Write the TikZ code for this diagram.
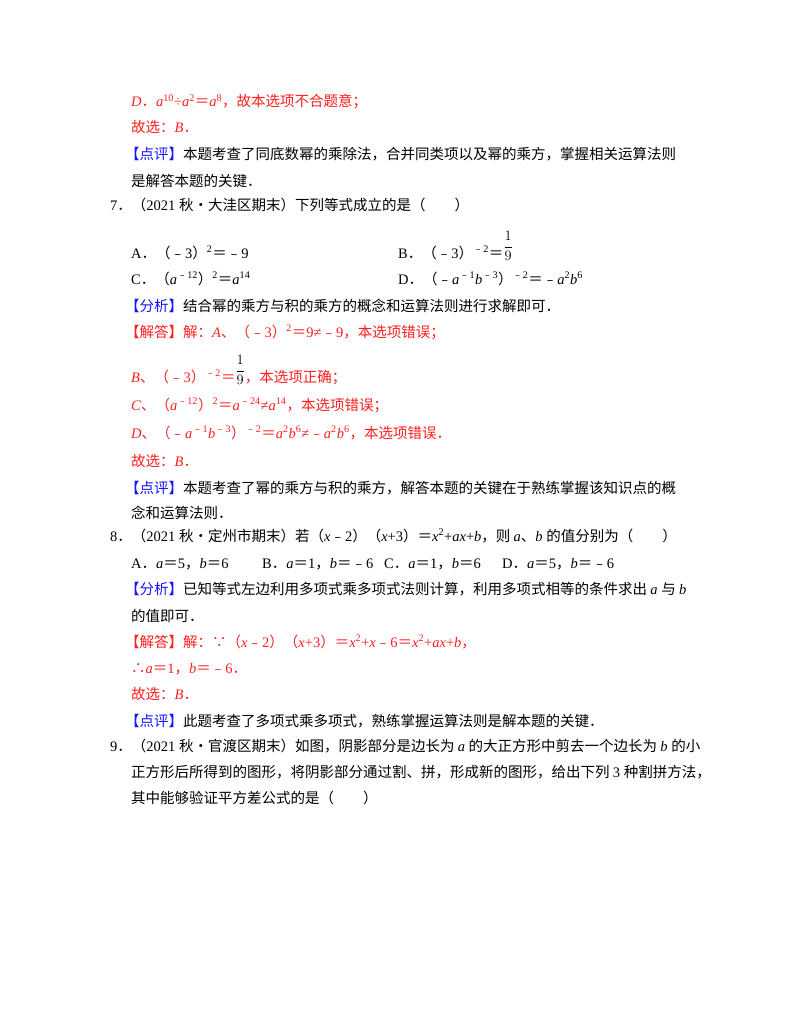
\documentclass[tikz,border=0pt]{standalone}
\usepackage{fontspec}
\setmainfont{Liberation Serif}
\newfontfamily\zh{Noto Sans CJK SC}
\definecolor{ansred}{RGB}{255,30,30}
\definecolor{tagblue}{RGB}{20,20,255}
\newcommand{\m}{{\zh ﹣}}
\newcommand{\eq}{{\zh ＝}}
\newcommand{\dt}{{\zh ．}}
\newcommand{\tsp}[1]{\textsuperscript{#1}}
\newcommand{\ninth}{\raisebox{1.1ex}{$\displaystyle\frac{1}{9}$}}
\newcommand{\tagb}[1]{{\color{tagblue}\zh 【#1】}}
\newcommand{\tagr}[1]{{\color{ansred}\zh 【#1】}}
\begin{document}
\begin{tikzpicture}[x=1pt,y=-1pt,
  ln/.style={anchor=base west,inner sep=0pt,font=\fontsize{14.5}{18}\selectfont},
  red/.style={ln,text=ansred}]
\useasboundingbox (0,0) rectangle (800,1035);
\node[red] (a1) at (131,107) {\textit{D}\dt\textit{a}\tsp{10}÷\textit{a}\tsp{2}\eq\textit{a}\tsp{8}{\zh ，故本选项不合题意；}};
\node[red] (a2) at (131,133) {{\zh 故选：}\textit{B}\dt};
\node[ln] (a3) at (125,160) {\tagb{点评}{\zh 本题考查了同底数幂的乘除法，合并同类项以及幂的乘方，掌握相关运算法则}};
\node[ln] (a4) at (131,186) {{\zh 是解答本题的关键}\dt};
\node[ln] (q7) at (110,210) {7\dt{\zh （}2021 {\zh 秋•大洼区期末）下列等式成立的是（\quad\quad ）}};
\node[ln] (q7a) at (131,258) {A\dt{\zh （}\m3{\zh ）}\tsp{2}\eq\m9};
\node[ln] (q7b) at (398,258) {B\dt{\zh （}\m3{\zh ）}\tsp{\m2}\eq\ninth};
\node[ln] (q7c) at (131,284) {C\dt{\zh （}\textit{a}\tsp{\m12}{\zh ）}\tsp{2}\eq\textit{a}\tsp{14}};
\node[ln] (q7d) at (398,284) {D\dt{\zh （}\m\textit{a}\tsp{\m1}\textit{b}\tsp{\m3}{\zh ）}\tsp{\m2}\eq\m\textit{a}\tsp{2}\textit{b}\tsp{6}};
\node[ln] (b1) at (125,311) {\tagb{分析}{\zh 结合幂的乘方与积的乘方的概念和运算法则进行求解即可}\dt};
\node[red] (b2) at (125,337) {\tagr{解答}{\zh 解：}\textit{A}{\zh 、（}\m3{\zh ）}\tsp{2}\eq9≠\m9{\zh ，本选项错误；}};
\node[red] (b3) at (131,382) {\textit{B}{\zh 、（}\m3{\zh ）}\tsp{\m2}\eq{\color{black}\ninth}{\zh ，本选项正确；}};
\node[red] (b4) at (131,410) {\textit{C}{\zh 、（}\textit{a}\tsp{\m12}{\zh ）}\tsp{2}\eq\textit{a}\tsp{\m24}≠\textit{a}\tsp{14}{\zh ，本选项错误；}};
\node[red] (b5) at (131,438) {\textit{D}{\zh 、（}\m\textit{a}\tsp{\m1}\textit{b}\tsp{\m3}{\zh ）}\tsp{\m2}\eq\textit{a}\tsp{2}\textit{b}\tsp{6}≠\m\textit{a}\tsp{2}\textit{b}\tsp{6}{\zh ，本选项错误}\dt};
\node[red] (b6) at (131,466) {{\zh 故选：}\textit{B}\dt};
\node[ln] (b7) at (125,493) {\tagb{点评}{\zh 本题考查了幂的乘方与积的乘方，解答本题的关键在于熟练掌握该知识点的概}};
\node[ln] (b8) at (131,518) {{\zh 念和运算法则}\dt};
\node[ln] (q8) at (110,541) {8\dt{\zh （}2021 {\zh 秋•定州市期末）若（}\textit{x}\m2{\zh ）（}\textit{x}+3{\zh ）}\eq\textit{x}\tsp{2}+\textit{ax}+\textit{b}{\zh ，则 }\textit{a}{\zh 、}\textit{b} {\zh 的值分别为（\quad\quad ）}};
\node[ln] (q8a) at (131,568) {A\dt\textit{a}\eq5{\zh ，}\textit{b}\eq6};
\node[ln] (q8b) at (262,568) {B\dt\textit{a}\eq1{\zh ，}\textit{b}\eq\m6};
\node[ln] (q8c) at (384,568) {C\dt\textit{a}\eq1{\zh ，}\textit{b}\eq6};
\node[ln] (q8d) at (502,568) {D\dt\textit{a}\eq5{\zh ，}\textit{b}\eq\m6};
\node[ln] (c1) at (125,594) {\tagb{分析}{\zh 已知等式左边利用多项式乘多项式法则计算，利用多项式相等的条件求出 }\textit{a} {\zh 与 }\textit{b}};
\node[ln] (c2) at (131,621) {{\zh 的值即可}\dt};
\node[red] (c3) at (125,647) {\tagr{解答}{\zh 解：∵（}\textit{x}\m2{\zh ）（}\textit{x}+3{\zh ）}\eq\textit{x}\tsp{2}+\textit{x}\m6\eq\textit{x}\tsp{2}+\textit{ax}+\textit{b}{\zh ，}};
\node[red] (c4) at (131,673) {{\zh ∴}\textit{a}\eq1{\zh ，}\textit{b}\eq\m6\dt};
\node[red] (c5) at (131,699) {{\zh 故选：}\textit{B}\dt};
\node[ln] (c6) at (125,726) {\tagb{点评}{\zh 此题考查了多项式乘多项式，熟练掌握运算法则是解本题的关键}\dt};
\node[ln] (q9) at (110,751) {9\dt{\zh （}2021 {\zh 秋•官渡区期末）如图，阴影部分是边长为 }\textit{a} {\zh 的大正方形中剪去一个边长为 }\textit{b} {\zh 的小}};
\node[ln] (q9b) at (131,777) {{\zh 正方形后所得到的图形，将阴影部分通过割、拼，形成新的图形，给出下列 }3 {\zh 种割拼方法，}};
\node[ln] (q9c) at (131,803) {{\zh 其中能够验证平方差公式的是（\quad\quad ）}};
\end{tikzpicture}
\end{document}
